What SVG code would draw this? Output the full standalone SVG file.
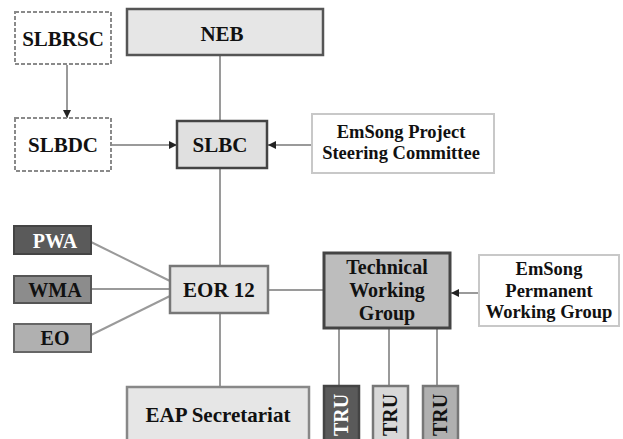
<svg xmlns="http://www.w3.org/2000/svg" width="623" height="439" viewBox="0 0 623 439">
<defs>
<marker id="ah" viewBox="0 0 10 10" refX="10" refY="5" markerWidth="4" markerHeight="4" orient="auto" markerUnits="strokeWidth">
<path d="M0,0 L10,5 L0,10 z" fill="#222"/>
</marker>
</defs>
<style>
text{font-family:'Liberation Serif','Times New Roman',serif;font-weight:bold;fill:#111;text-anchor:middle}
.w{fill:#fff}
.dash{fill:#fff;stroke:#8a8a8a;stroke-width:2;stroke-dasharray:4 2}
.conn line{stroke:#9a9a9a;stroke-width:2}
.arr{marker-end:url(#ah)}
.f21{font-size:21px}
.f20{font-size:20px}
.f18{font-size:18.5px}
</style>
<rect width="623" height="439" fill="#fff"/>
<g class="conn">
<line x1="67" y1="65" x2="67" y2="118" class="arr"/>
<line x1="111" y1="145" x2="177" y2="145" class="arr"/>
<line x1="312" y1="145" x2="268" y2="145" class="arr"/>
<line x1="220" y1="55" x2="220" y2="121"/>
<line x1="220" y1="168" x2="220" y2="266"/>
<line x1="220" y1="313" x2="220" y2="387"/>
<line x1="268" y1="290" x2="323" y2="290"/>
<line x1="91" y1="242" x2="170" y2="281"/>
<line x1="91" y1="289" x2="170" y2="289"/>
<line x1="91" y1="335" x2="170" y2="296"/>
<line x1="479" y1="293" x2="451" y2="293" class="arr"/>
<line x1="339" y1="328" x2="339" y2="386"/>
<line x1="389" y1="328" x2="389" y2="386"/>
<line x1="437" y1="328" x2="437" y2="386"/>
</g>
<g id="slbrsc"><rect x="15" y="12" width="96" height="52" class="dash"/><text x="63" y="46" class="f21">SLBRSC</text></g>
<g id="neb"><rect x="127" y="9" width="196" height="46" fill="#e6e6e6" stroke="#555" stroke-width="2.5"/><text x="222" y="41" class="f21">NEB</text></g>
<g id="slbdc"><rect x="15" y="118" width="96" height="53" class="dash"/><text x="63" y="152" class="f21">SLBDC</text></g>
<g id="slbc"><rect x="177" y="121" width="90" height="47" fill="#e0e0e0" stroke="#444" stroke-width="2.5"/><text x="220" y="152" class="f21">SLBC</text></g>
<g id="steering"><rect x="312" y="114" width="182" height="59" fill="#fff" stroke="#c8c8c8" stroke-width="2"/><text x="401" y="138" class="f18">EmSong Project</text><text x="401" y="159" class="f18">Steering Committee</text></g>
<g id="pwa"><rect x="14" y="226" width="77" height="28" fill="#5a5a5a" stroke="#444" stroke-width="2"/><text x="55" y="248" class="f20 w">PWA</text></g>
<g id="wma"><rect x="14" y="276" width="77" height="27" fill="#8c8c8c" stroke="#555" stroke-width="2"/><text x="55" y="297" class="f20">WMA</text></g>
<g id="eo"><rect x="14" y="324" width="77" height="28" fill="#b0b0b0" stroke="#666" stroke-width="2"/><text x="55" y="345" class="f20">EO</text></g>
<g id="eor12"><rect x="170" y="266" width="98" height="47" fill="#e4e4e4" stroke="#777" stroke-width="2.5"/><text x="219" y="297" class="f21">EOR 12</text></g>
<g id="twg"><rect x="324" y="253" width="126" height="75" fill="#bdbdbd" stroke="#444" stroke-width="3"/><text x="387" y="274" class="f20">Technical</text><text x="387" y="297" class="f20">Working</text><text x="387" y="320" class="f20">Group</text></g>
<g id="pwg"><rect x="479" y="255" width="140" height="71" fill="#fff" stroke="#c8c8c8" stroke-width="2"/><text x="549" y="275" class="f18">EmSong</text><text x="549" y="297" class="f18">Permanent</text><text x="549" y="318" class="f18">Working Group</text></g>
<g id="eap"><rect x="127" y="387" width="182" height="60" fill="#e6e6e6" stroke="#888" stroke-width="2.5"/><text x="218" y="422" class="f21">EAP Secretariat</text></g>
<g id="tru1"><rect x="324" y="386" width="35" height="60" fill="#5a5a5a" stroke="#444" stroke-width="2.5"/><text transform="translate(348,415) rotate(-90)" class="f20 w">TRU</text></g>
<g id="tru2"><rect x="373" y="386" width="35" height="60" fill="#d8d8d8" stroke="#777" stroke-width="2.5"/><text transform="translate(397,415) rotate(-90)" class="f20">TRU</text></g>
<g id="tru3"><rect x="423" y="386" width="35" height="60" fill="#b0b0b0" stroke="#777" stroke-width="2.5"/><text transform="translate(447,415) rotate(-90)" class="f20">TRU</text></g>
</svg>
